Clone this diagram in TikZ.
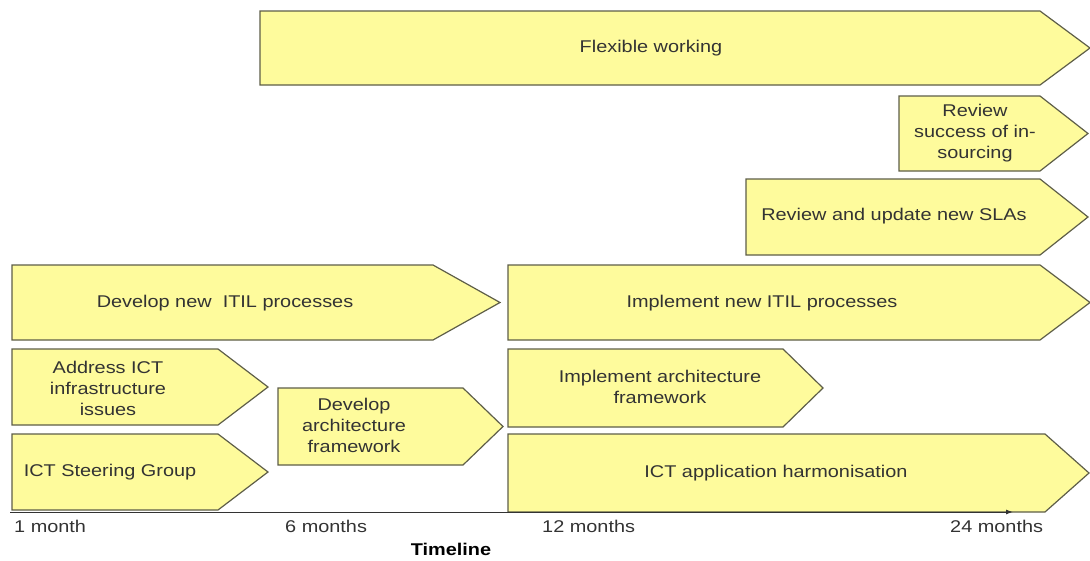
\documentclass[tikz,border=0pt]{standalone}
\usepackage{fontspec}
\setmainfont[FakeStretch=1.17]{Liberation Sans}
\usetikzlibrary{arrows.meta}
\definecolor{yel}{HTML}{FEFB9C}
\definecolor{edge}{HTML}{5E5E48}
\definecolor{txt}{HTML}{333333}
\tikzset{
  chev/.style={draw=edge, fill=yel, line width=1.2pt, line join=miter},
  lbl/.style={align=center, text=txt, inner sep=0pt, font=\fontsize{17}{21}\selectfont},
  tick/.style={anchor=west, text=txt, inner sep=0pt, font=\fontsize{17}{21}\selectfont},
}
% #1 x1, #2 y1, #3 y2, #4 x rect end, #5 x tip
\newcommand\chevshape[5]{%
  \draw[chev] (#1,#2) -- (#4,#2) -- (#5,{(#2+#3)/2}) -- (#4,#3) -- (#1,#3) -- cycle;}
\begin{document}
\begin{tikzpicture}[x=1pt,y=-1pt]
\useasboundingbox (0,0) rectangle (1090,560);
\chevshape{260}{11}{85}{1040}{1090}
\node[lbl] (flex) at (651,48) {Flexible working};
\chevshape{899}{96}{171}{1040}{1088}
\node[lbl] (revsucc) at (975,133) {Review\\success of in-\\sourcing};
\chevshape{746}{179}{255}{1040}{1088}
\node[lbl] (revsla) at (894,216) {Review and update new SLAs};
\chevshape{12}{265}{340}{433}{500}
\node[lbl] (devitil) at (225,303) {Develop new\ \ ITIL processes};
\chevshape{508}{265}{340}{1040}{1090}
\node[lbl] (impitil) at (762,303) {Implement new ITIL processes};
\chevshape{12}{349}{425}{218}{268}
\node[lbl] (addict) at (108,388) {Address ICT\\infrastructure\\issues};
\chevshape{278}{388}{465}{463}{503}
\node[lbl] (devarch) at (354,425) {Develop\\architecture\\framework};
\chevshape{12}{434}{510}{218}{268}
\node[lbl] (steer) at (110,472) {ICT Steering Group};
\chevshape{508}{349}{427}{783}{823}
\node[lbl] (imparch) at (660,387) {Implement architecture\\framework};
\chevshape{508}{434}{512}{1045}{1089}
\node[lbl] (ictapp) at (776,473) {ICT application\ harmonisation};
\coordinate (axs) at (10,512);
\coordinate (axe) at (1013,512);
\draw[line width=1pt, black!80, -{Latex[length=7pt,width=5pt]}] (axs) -- (axe);
\node[tick] (m1) at (14,526) {1 month};
\node[tick] (m6) at (285,526) {6 months};
\node[tick] (m12) at (542,526) {12 months};
\node[tick] (m24) at (950,526) {24 months};
\node[lbl, font=\fontsize{17}{20}\selectfont\bfseries, text=black] (tl) at (451,549) {Timeline};
\end{tikzpicture}
\end{document}
